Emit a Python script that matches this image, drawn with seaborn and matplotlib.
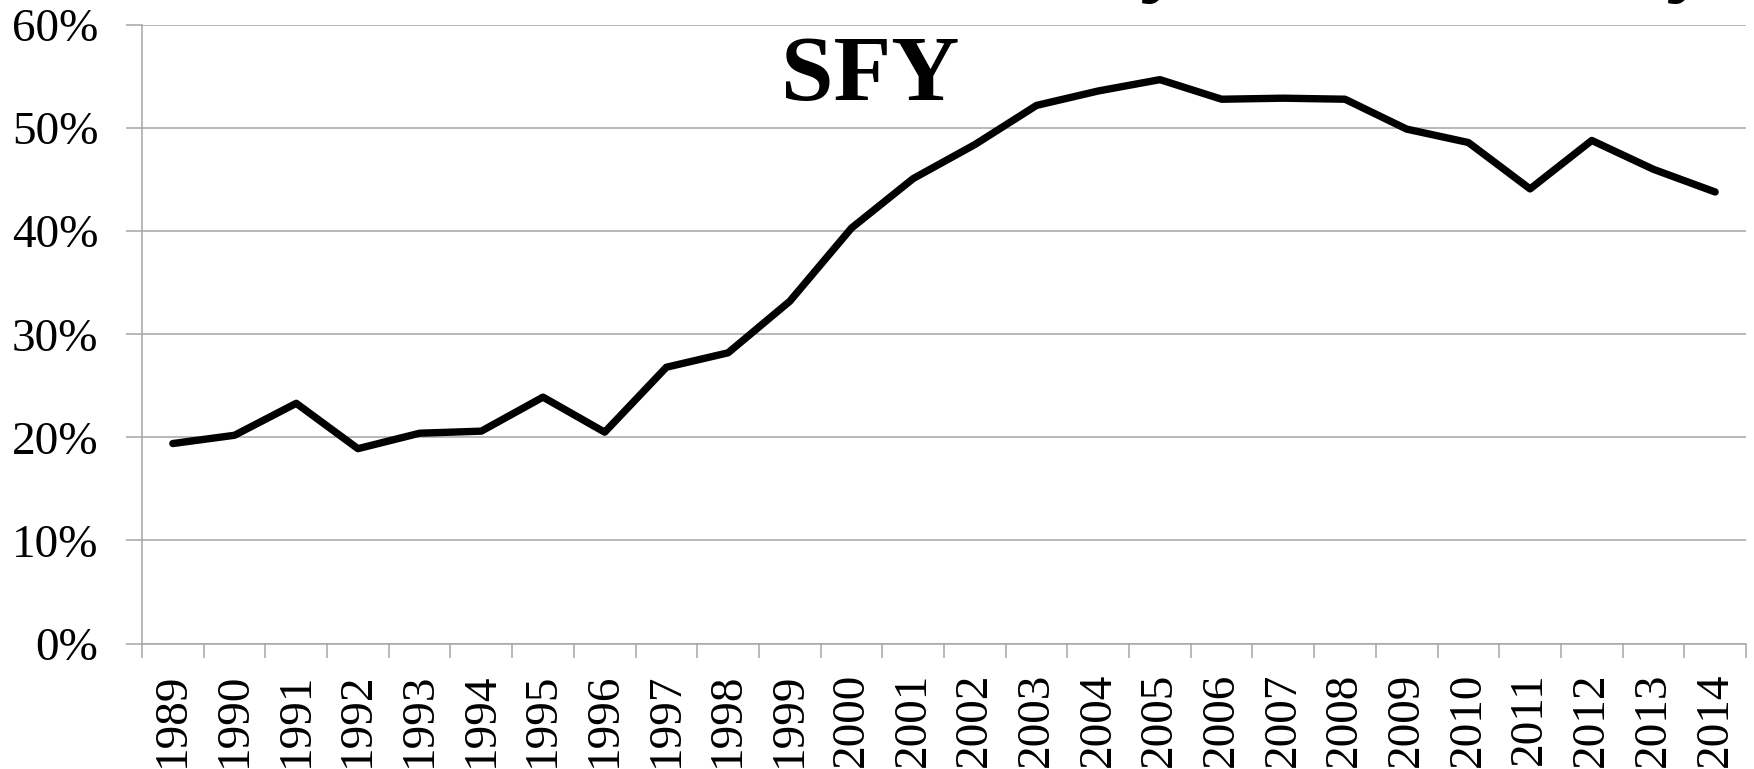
import matplotlib
matplotlib.use("Agg")
import matplotlib.pyplot as plt
import seaborn as sns
import pandas as pd
import numpy as np
from matplotlib.ticker import FixedLocator, PercentFormatter

years = [str(y) for y in range(1989, 2015)]
share = [19.4, 20.2, 23.3, 18.9, 20.4, 20.6, 23.9, 20.5, 26.8, 28.2, 33.2, 40.3,
         45.1, 48.4, 52.2, 53.6, 54.7, 52.8, 52.9, 52.8, 49.9, 48.6, 44.1, 48.8,
         46.0, 43.8]
yticks = [0, 10, 20, 30, 40, 50, 60]
label_text = "SFY"

sns.set_theme(style="white")
plt.rcParams['font.family'] = ['Liberation Serif', 'DejaVu Serif']
plt.rcParams['text.color'] = 'black'
plt.rcParams['xtick.labelcolor'] = 'black'
plt.rcParams['ytick.labelcolor'] = 'black'

df = pd.DataFrame({"year": years, "share": share})

fig = plt.figure(figsize=(17.54, 7.69), dpi=100)
ax = fig.add_axes([142/1754, 1 - 643.5/769, (1746 - 142)/1754, (643.5 - 25)/769])

sns.lineplot(data=df, x="year", y="share", ax=ax, color="black", linewidth=5.3,
             solid_capstyle="round", solid_joinstyle="round", sort=False)

ax.set_xlim(-0.5, len(years) - 0.5)
ax.set_ylim(0, 60)
ax.set_yticks(yticks)
ax.yaxis.set_major_formatter(PercentFormatter(decimals=0))
ax.yaxis.grid(True, color="#a6a6a6", linewidth=1.1)
ax.set_axisbelow(True)
ax.set_xlabel("")
ax.set_ylabel("")

ax.set_xticks(range(len(years)))
ax.set_xticklabels(years, rotation=90, va="top", ha="center")
ax.xaxis.set_minor_locator(FixedLocator(np.arange(-0.5, len(years), 1.0)))

ax.tick_params(axis="x", which="major", length=0, pad=21, labelsize=34, labelcolor="black")
ax.tick_params(axis="x", which="minor", length=10, width=1.1, color="#a6a6a6", direction="out", bottom=True)
ax.tick_params(axis="y", which="major", length=11.5, width=1.1, color="#a6a6a6", direction="out",
               pad=20, labelsize=34, left=True, labelcolor="black")

for s in ["top", "right"]:
    ax.spines[s].set_visible(False)
for s in ["left", "bottom"]:
    ax.spines[s].set_color("#a6a6a6")
    ax.spines[s].set_linewidth(1.1)

fig.text(870/1754, 1 - 100/769, label_text, ha="center", va="baseline",
         fontsize=68, fontweight="bold", color="black")

# partially cropped title at the very top of the slide
fig.text(1163/1754, 1 + 16/769, "y", ha="center", va="baseline", fontsize=68, fontweight="bold", color="black")
fig.text(1486/1754, 1 + 16/769, ",", ha="center", va="baseline", fontsize=68, fontweight="bold", color="black")
fig.text(1689/1754, 1 + 16/769, "y", ha="center", va="baseline", fontsize=68, fontweight="bold", color="black")

fig.savefig("out.png", dpi=100)
